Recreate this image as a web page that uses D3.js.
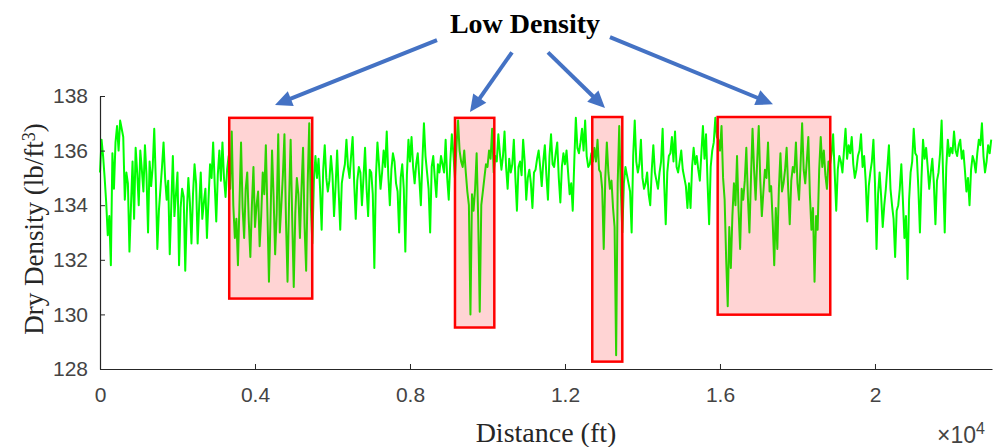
<!DOCTYPE html>
<html>
<head>
<meta charset="utf-8">
<script src="https://cdn.jsdelivr.net/npm/d3@7"></script>
<style>
  body { margin: 0; padding: 0; background: #fff; }
  svg { display: block; }
  .tick text { font-family: "Liberation Sans", Arial, sans-serif; font-size: 21px; fill: #444; }
  .axis path, .axis line { stroke: #262626; }
</style>
</head>
<body>
<svg id="chart" width="993" height="447"></svg>
<script>
// density readings, one every 40 ft along the road
var step = 40;
var density = [
  135.2, 136.4, 135.8, 135.0, 134.1, 132.9, 133.6, 131.8, 135.9, 134.6, 136.3, 136.9, 136.0, 137.1, 136.8, 136.5, 134.2, 135.2, 134.8, 132.3,
  134.0, 135.6, 133.5, 136.1, 135.2, 134.0, 136.0, 135.3, 134.5, 136.2, 135.1, 133.0, 135.6, 134.7, 135.4, 136.8, 134.9, 132.4, 133.8, 134.6,
  135.4, 136.3, 135.0, 134.2, 134.9, 132.2, 134.0, 135.8, 133.6, 134.4, 135.2, 131.8, 133.9, 134.6, 134.3, 131.6, 133.7, 135.0, 134.1, 132.6,
  134.4, 135.5, 134.8, 132.6, 134.0, 135.2, 133.5, 134.1, 134.6, 132.8, 134.2, 135.5, 135.0, 136.3, 134.8, 133.4, 135.1, 136.0, 134.9, 136.3,
  135.0, 134.3, 135.3, 135.8, 134.6, 136.7, 134.0, 132.8, 133.5, 131.8, 134.1, 136.3, 133.9, 132.8, 134.6, 135.2, 133.4, 132.1, 134.0, 135.4,
  133.2, 134.0, 134.5, 132.5, 133.6, 135.2, 134.4, 136.2, 133.8, 131.2, 133.5, 136.0, 134.3, 132.2, 133.7, 136.6, 133.0, 134.0, 135.1, 136.6,
  133.4, 131.2, 134.2, 136.4, 133.5, 131.0, 133.7, 135.0, 134.4, 132.8, 134.6, 136.1, 133.2, 131.6, 134.8, 137.0, 134.0, 132.6, 134.9, 135.8,
  135.0, 135.7, 134.6, 133.1, 135.3, 136.2, 135.0, 134.5, 134.9, 135.8, 135.1, 133.6, 134.7, 136.0, 134.5, 133.1, 134.8, 135.2, 135.5, 136.4,
  135.4, 135.0, 135.8, 136.5, 134.8, 133.5, 134.9, 135.4, 135.2, 134.0, 135.0, 136.1, 134.6, 133.6, 135.3, 135.2, 134.4, 131.7, 135.0, 136.3,
  135.5, 134.6, 135.2, 136.0, 135.4, 136.7, 135.1, 134.0, 135.3, 135.9, 135.6, 134.8, 134.5, 133.0, 135.0, 135.5, 134.6, 132.3, 135.1, 136.4,
  135.6, 136.5, 135.4, 134.8, 135.5, 135.9, 135.0, 134.0, 135.6, 137.0, 135.8, 135.2, 134.6, 133.0, 135.4, 135.8, 135.0, 134.3, 135.5, 135.2,
  135.8, 135.5, 135.2, 136.4, 135.0, 134.2, 135.6, 136.6, 135.9, 135.0, 136.2, 137.1, 136.0, 135.6, 135.4, 136.0, 135.2, 134.5, 134.0, 130.0,
  134.4, 133.8, 134.6, 135.9, 133.5, 130.1, 134.0, 134.5, 135.0, 135.5, 135.4, 136.0, 135.7, 136.8, 135.2, 135.8, 135.6, 136.6, 135.9, 135.3,
  135.8, 136.7, 135.4, 134.6, 135.7, 135.2, 135.5, 136.4, 135.0, 133.8, 135.4, 135.6, 135.1, 136.4, 135.6, 134.2, 135.0, 135.3, 134.8, 133.9,
  135.2, 135.3, 135.7, 136.0, 135.4, 134.7, 135.6, 136.2, 135.1, 134.2, 135.8, 136.6, 135.5, 135.4, 135.9, 136.3, 135.0, 134.1, 135.4, 135.9,
  135.5, 136.0, 135.2, 134.4, 134.8, 133.8, 135.6, 137.2, 136.1, 135.9, 136.3, 136.8, 136.0, 137.1, 135.8, 135.4, 135.5, 135.9, 135.6, 136.1,
  135.6, 136.4, 135.3, 135.2, 134.6, 132.4, 135.0, 136.3, 135.2, 134.6, 134.9, 133.9, 133.2, 128.5, 134.8, 136.9, 134.6, 133.0, 134.8, 135.4,
  135.1, 134.8, 134.5, 133.0, 135.8, 137.1, 135.6, 135.2, 135.5, 136.4, 135.0, 134.6, 134.8, 135.2, 134.4, 134.0, 135.3, 136.2, 135.2, 134.9,
  134.6, 135.2, 135.6, 136.8, 134.8, 133.3, 135.2, 135.8, 135.9, 136.5, 135.6, 136.7, 135.4, 135.2, 135.6, 136.0, 135.3, 135.0, 134.7, 133.9,
  134.8, 133.9, 135.4, 136.1, 135.5, 135.8, 135.3, 134.9, 135.9, 136.9, 135.7, 136.6, 134.8, 133.3, 135.4, 136.0, 136.3, 137.2, 136.5, 136.4,
  136.0, 136.9, 135.0, 134.2, 132.0, 130.3, 133.2, 131.7, 133.6, 134.8, 134.0, 135.8, 133.8, 132.4, 134.6, 134.2, 134.9, 136.1, 134.3, 133.0,
  135.0, 136.8, 135.3, 134.2, 135.6, 136.9, 134.9, 133.6, 134.5, 135.3, 135.0, 136.3, 134.5, 134.7, 133.4, 131.8, 133.9, 132.4, 134.6, 135.9,
  134.5, 134.8, 135.3, 136.1, 134.6, 133.3, 134.9, 135.4, 135.2, 136.3, 134.8, 134.2, 135.5, 137.0, 135.3, 134.8, 135.6, 136.5, 134.4, 133.1,
  133.9, 131.2, 133.6, 133.1, 135.3, 136.5, 135.4, 136.0, 135.1, 134.6, 135.6, 135.5, 135.9, 136.6, 135.2, 133.8, 135.3, 135.8, 135.6, 135.2,
  136.0, 136.8, 135.7, 136.2, 135.9, 136.5, 135.5, 135.0, 135.3, 135.8, 136.0, 136.6, 135.4, 135.8, 134.9, 133.4, 134.7, 135.2, 135.6, 136.4,
  134.8, 132.4, 134.4, 135.2, 134.3, 133.2, 134.0, 134.6, 135.4, 136.2, 134.6, 134.0, 133.5, 132.1, 133.8, 134.0, 134.6, 135.5, 134.2, 132.8,
  133.6, 131.3, 134.2, 135.2, 135.6, 136.8, 135.9, 135.8, 134.6, 133.0, 135.0, 136.4, 135.7, 136.1, 135.4, 134.6, 135.2, 135.7, 134.8, 133.3,
  134.9, 135.2, 135.9, 137.1, 135.0, 133.0, 135.4, 136.4, 135.8, 136.1, 135.9, 136.7, 136.0, 135.8, 136.2, 136.4, 135.7, 136.0, 135.3, 134.5,
  135.0, 134.0, 135.3, 135.8, 135.6, 135.2, 135.9, 136.4, 136.2, 137.0, 135.8, 135.2, 135.6, 136.2, 135.9, 136.4
];

var xTicks = [0, 4000, 8000, 12000, 16000, 20000];
var xTickLabels = ["0", "0.4", "0.8", "1.2", "1.6", "2"];
var yTicks = [128, 130, 132, 134, 136, 138];

// low density zones: [from ft, to ft, bottom, top]
var lowZones = [
  [3335, 5477, 130.58, 137.2],
  [9161, 10176, 129.52, 137.2],
  [12704, 13479, 128.27, 137.23],
  [15940, 18846, 129.99, 137.23]
];
// arrows from the label down to each zone: [tailX, tailY, tipX, tipY]
var arrows = [
  [8697, 140.05, 4516, 137.67],
  [10632, 139.6, 9548, 137.41],
  [11561, 139.6, 13032, 137.56],
  [13161, 140.16, 17368, 137.7]
];

var svg = d3.select("#chart");
var x = d3.scaleLinear().domain([0, 23020]).range([100, 992]);
var y = d3.scaleLinear().domain([128, 138]).range([369, 96]);

var line = d3.line()
    .x(function(d, i) { return x(i * step); })
    .y(function(d) { return y(d); });

svg.append("path")
    .datum(density)
    .attr("fill", "none")
    .attr("stroke", "#00ff00")
    .attr("stroke-width", 2)
    .attr("stroke-linejoin", "round")
    .attr("d", line);

svg.append("g")
    .attr("class", "axis")
    .attr("transform", "translate(0,369)")
    .call(d3.axisBottom(x).tickValues(xTicks)
      .tickFormat(function(d, i) { return xTickLabels[i]; })
      .tickSizeInner(-5).tickSizeOuter(0).tickPadding(18));

svg.append("g")
    .attr("class", "axis")
    .attr("transform", "translate(100,0)")
    .call(d3.axisLeft(y).tickValues(yTicks)
      .tickSizeInner(-5).tickSizeOuter(0).tickPadding(12));

svg.selectAll(".axis path").attr("stroke-width", 1.2);

// boxes
svg.selectAll("rect.zone")
    .data(lowZones)
  .enter().append("rect")
    .attr("class", "zone")
    .attr("x", function(d) { return x(d[0]); })
    .attr("y", function(d) { return y(d[3]); })
    .attr("width", function(d) { return x(d[1]) - x(d[0]); })
    .attr("height", function(d) { return y(d[2]) - y(d[3]); })
    .attr("fill", "rgba(255,0,0,0.17)")
    .attr("stroke", "#ff0000")
    .attr("stroke-width", 2.5);

// arrows
var headLen = 17, headHalf = 8;
arrows.forEach(function(a) {
  var x0 = x(a[0]), y0 = y(a[1]), x1 = x(a[2]), y1 = y(a[3]);
  var dx = x1 - x0, dy = y1 - y0, len = Math.sqrt(dx * dx + dy * dy);
  var ux = dx / len, uy = dy / len;
  var bx = x1 - ux * headLen, by = y1 - uy * headLen;
  svg.append("line")
      .attr("x1", x0).attr("y1", y0)
      .attr("x2", bx + ux * 2).attr("y2", by + uy * 2)
      .attr("stroke", "#4472c4")
      .attr("stroke-width", 4);
  svg.append("path")
      .attr("d", "M" + x1 + "," + y1 +
        "L" + (bx - uy * headHalf) + "," + (by + ux * headHalf) +
        "L" + (bx + uy * headHalf) + "," + (by - ux * headHalf) + "Z")
      .attr("fill", "#4472c4");
});

svg.append("text")
    .attr("x", 525).attr("y", 33)
    .attr("text-anchor", "middle")
    .style("font-family", "'Liberation Serif', 'Times New Roman', serif")
    .style("font-weight", "bold")
    .style("font-size", "28px")
    .attr("fill", "#000")
    .text("Low Density");

svg.append("text")
    .attr("x", 546).attr("y", 442)
    .attr("text-anchor", "middle")
    .style("font-family", "'Liberation Serif', 'Times New Roman', serif")
    .style("font-size", "28px")
    .attr("fill", "#262626")
    .text("Distance (ft)");

var yl = svg.append("text")
    .attr("transform", "translate(43,229) rotate(-90)")
    .attr("text-anchor", "middle")
    .style("font-family", "'Liberation Serif', 'Times New Roman', serif")
    .style("font-size", "27px")
    .attr("fill", "#262626");
yl.append("tspan").text("Dry Density (lb/ft");
yl.append("tspan").attr("dy", "-0.45em").style("font-size", "18px").text("3");
yl.append("tspan").attr("dy", "0.3em").text(")");

var ex = svg.append("text")
    .attr("x", 937).attr("y", 443)
    .style("font-family", "'Liberation Sans', Arial, sans-serif")
    .style("font-size", "23px")
    .attr("fill", "#444");
ex.append("tspan").text("\u00d710");
ex.append("tspan").attr("dy", "-0.55em").style("font-size", "16px").text("4");
</script>
</body>
</html>
